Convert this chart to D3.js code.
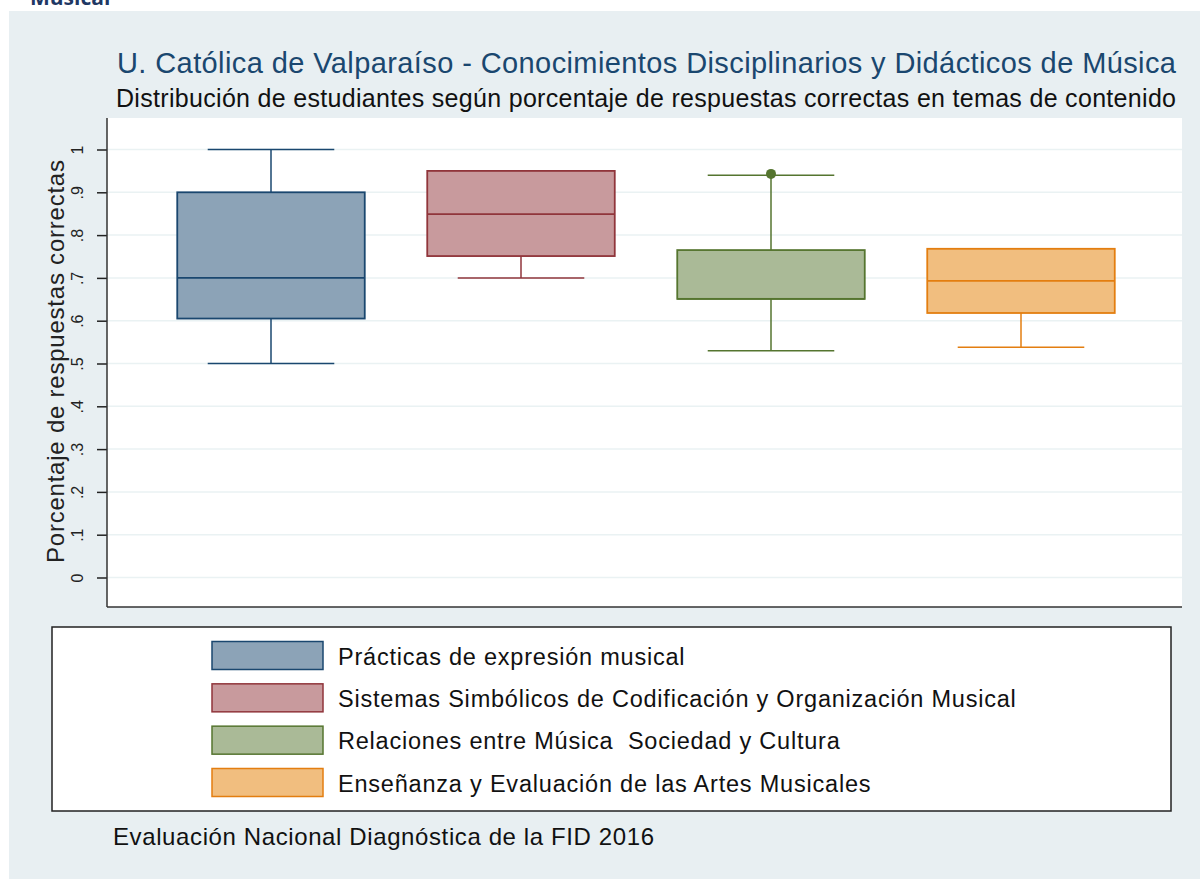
<!DOCTYPE html>
<html>
<head>
<meta charset="utf-8">
<script src="https://cdn.jsdelivr.net/npm/d3@7"></script>
<style>
  body { margin: 0; background: #fff; }
  svg { display: block; font-family: "Liberation Sans", Arial, sans-serif; }
</style>
</head>
<body>
<script>
var categories = [
  'Prácticas de expresión musical',
  'Sistemas Simbólicos de Codificación y Organización Musical',
  'Relaciones entre Música  Sociedad y Cultura',
  'Enseñanza y Evaluación de las Artes Musicales'
];
var lowWhisker = [0.50, 0.70, 0.53, 0.538];
var q1 = [0.605, 0.751, 0.651, 0.618];
var median = [0.70, 0.849, 0.651, 0.693];
var q3 = [0.90, 0.95, 0.765, 0.768];
var highWhisker = [1.00, 0.95, 0.94, 0.768];
var outliers = [[], [], [0.943], []];

var yTicks = [0, 0.1, 0.2, 0.3, 0.4, 0.5, 0.6, 0.7, 0.8, 0.9, 1];
var yTickLabels = ['0', '.1', '.2', '.3', '.4', '.5', '.6', '.7', '.8', '.9', '1'];

var strokeColors = ['#1a476f', '#90353b', '#55752f', '#e37e10'];
var fillColors = ['#8ca3b7', '#c89a9d', '#aaba97', '#f1be7f'];

var fullWidth = 1200;
var fullHeight = 879;
var plot = {left: 107, right: 1182, top: 118, bottom: 607};

var svg = d3.select('body').append('svg')
  .attr('width', fullWidth)
  .attr('height', fullHeight);

// stretch a text's spacing so it fills the given width (GDI text runs wider)
function fitWidth(sel, w) {
  sel.attr('textLength', w).attr('lengthAdjust', 'spacing');
}
function widen(sel, factor) {
  sel.each(function() {
    var len = this.getComputedTextLength();
    d3.select(this).attr('textLength', len * factor).attr('lengthAdjust', 'spacing');
  });
}

// outer background of the graph
svg.append('rect')
  .attr('x', 9).attr('y', 11)
  .attr('width', fullWidth - 9).attr('height', fullHeight - 11)
  .attr('fill', '#e8eff2');

// cut heading from the page above
svg.append('text')
  .attr('x', 30).attr('y', 5)
  .style('font-family', '"Open Sans", sans-serif')
  .style('font-weight', 'bold')
  .style('font-size', '21px')
  .style('fill', '#1f3864')
  .text('Musical');

svg.append('rect')
  .attr('x', plot.left).attr('y', plot.top)
  .attr('width', plot.right - plot.left).attr('height', plot.bottom - plot.top)
  .attr('fill', '#fff');

var y = d3.scaleLinear()
  .domain([0, 1])
  .range([577.5, 149.5]);

var x = d3.scaleBand()
  .domain(categories)
  .range([146, 1146])
  .paddingInner(0.25)
  .paddingOuter(0.125);

var bw = x.bandwidth();

// gridlines
svg.append('g')
  .selectAll('line')
  .data(yTicks)
  .enter().append('line')
    .attr('x1', plot.left).attr('x2', plot.right)
    .attr('y1', function(d) { return y(d); })
    .attr('y2', function(d) { return y(d); })
    .attr('stroke', '#eaf2f3')
    .attr('stroke-width', 1.5);

var yAxis = d3.axisLeft(y)
  .tickValues(yTicks)
  .tickSize(10)
  .tickFormat(function(d, i) { return yTickLabels[i]; });

var yAxisEle = svg.append('g')
  .attr('transform', 'translate(' + plot.left + ',0)')
  .call(yAxis);

yAxisEle.select('.domain').remove();
yAxisEle.selectAll('.tick line')
  .attr('stroke', '#222')
  .attr('stroke-width', 1.5);
yAxisEle.selectAll('.tick text')
  .attr('x', null).attr('dy', null)
  .attr('transform', 'translate(-24,0) rotate(-90)')
  .style('text-anchor', 'middle')
  .style('font-size', '16px')
  .style('fill', '#222')
  .style('font-family', '"Liberation Sans", Arial, sans-serif');

// axis lines
svg.append('line')
  .attr('x1', plot.left).attr('x2', plot.left)
  .attr('y1', plot.top).attr('y2', plot.bottom)
  .attr('stroke', '#333').attr('stroke-width', 1.5);
svg.append('line')
  .attr('x1', plot.left).attr('x2', plot.right)
  .attr('y1', plot.bottom).attr('y2', plot.bottom)
  .attr('stroke', '#333').attr('stroke-width', 1.5);

svg.append('text')
  .attr('transform', 'translate(64,361.5) rotate(-90)')
  .style('text-anchor', 'middle')
  .style('font-size', '24px')
  .style('fill', '#222')
  .text('Porcentaje de respuestas correctas')
  .call(fitWidth, 403);

// boxes
var boxes = svg.append('g').selectAll('g')
  .data(categories)
  .enter().append('g');

boxes.each(function(c, i) {
  var g = d3.select(this);
  var cx = x(c) + bw / 2;
  var capW = bw * 0.675;
  g.append('line')
    .attr('x1', cx).attr('x2', cx)
    .attr('y1', y(highWhisker[i])).attr('y2', y(q3[i]))
    .attr('stroke', strokeColors[i]).attr('stroke-width', 1.5);
  g.append('line')
    .attr('x1', cx).attr('x2', cx)
    .attr('y1', y(q1[i])).attr('y2', y(lowWhisker[i]))
    .attr('stroke', strokeColors[i]).attr('stroke-width', 1.5);
  [highWhisker[i], lowWhisker[i]].forEach(function(v) {
    g.append('line')
      .attr('x1', cx - capW / 2).attr('x2', cx + capW / 2)
      .attr('y1', y(v)).attr('y2', y(v))
      .attr('stroke', strokeColors[i]).attr('stroke-width', 1.5);
  });
  g.append('rect')
    .attr('x', x(c)).attr('width', bw)
    .attr('y', y(q3[i])).attr('height', y(q1[i]) - y(q3[i]))
    .attr('fill', fillColors[i])
    .attr('stroke', strokeColors[i]).attr('stroke-width', 1.8);
  g.append('line')
    .attr('x1', x(c)).attr('x2', x(c) + bw)
    .attr('y1', y(median[i])).attr('y2', y(median[i]))
    .attr('stroke', strokeColors[i]).attr('stroke-width', 1.8);
  g.selectAll('circle')
    .data(outliers[i])
    .enter().append('circle')
      .attr('cx', cx).attr('cy', function(d) { return y(d); })
      .attr('r', 5)
      .attr('fill', strokeColors[i]);
});

// titles
svg.append('text')
  .attr('x', 646.5).attr('y', 72.5)
  .style('text-anchor', 'middle')
  .style('font-size', '29px')
  .style('fill', '#1a476f')
  .text('U. Católica de Valparaíso - Conocimientos Disciplinarios y Didácticos de Música')
  .call(fitWidth, 1059);

svg.append('text')
  .attr('x', 646).attr('y', 106.5)
  .style('text-anchor', 'middle')
  .style('font-size', '25px')
  .style('fill', '#111')
  .text('Distribución de estudiantes según porcentaje de respuestas correctas en temas de contenido')
  .call(fitWidth, 1060);

// legend
var legend = svg.append('g');
legend.append('rect')
  .attr('x', 52).attr('y', 627)
  .attr('width', 1119).attr('height', 184)
  .attr('fill', '#fff')
  .attr('stroke', '#222').attr('stroke-width', 1.5);

var rowY = d3.scalePoint()
  .domain(categories)
  .range([655.5, 782.5]);

var items = legend.selectAll('.item')
  .data(categories)
  .enter().append('g')
    .attr('class', 'item')
    .attr('transform', function(d) { return 'translate(0,' + rowY(d) + ')'; });

items.append('rect')
  .attr('x', 212).attr('y', -14)
  .attr('width', 111).attr('height', 28)
  .attr('fill', function(d, i) { return fillColors[i]; })
  .attr('stroke', function(d, i) { return strokeColors[i]; })
  .attr('stroke-width', 1.5);

items.append('text')
  .attr('x', 338).attr('y', 9)
  .style('font-size', '23.5px')
  .style('fill', '#111')
  .style('white-space', 'pre')
  .text(function(d) { return d; })
  .call(widen, 1.07);

svg.append('text')
  .attr('x', 113).attr('y', 845)
  .style('font-size', '24px')
  .style('fill', '#111')
  .text('Evaluación Nacional Diagnóstica de la FID 2016')
  .call(fitWidth, 541);
</script>
</body>
</html>
